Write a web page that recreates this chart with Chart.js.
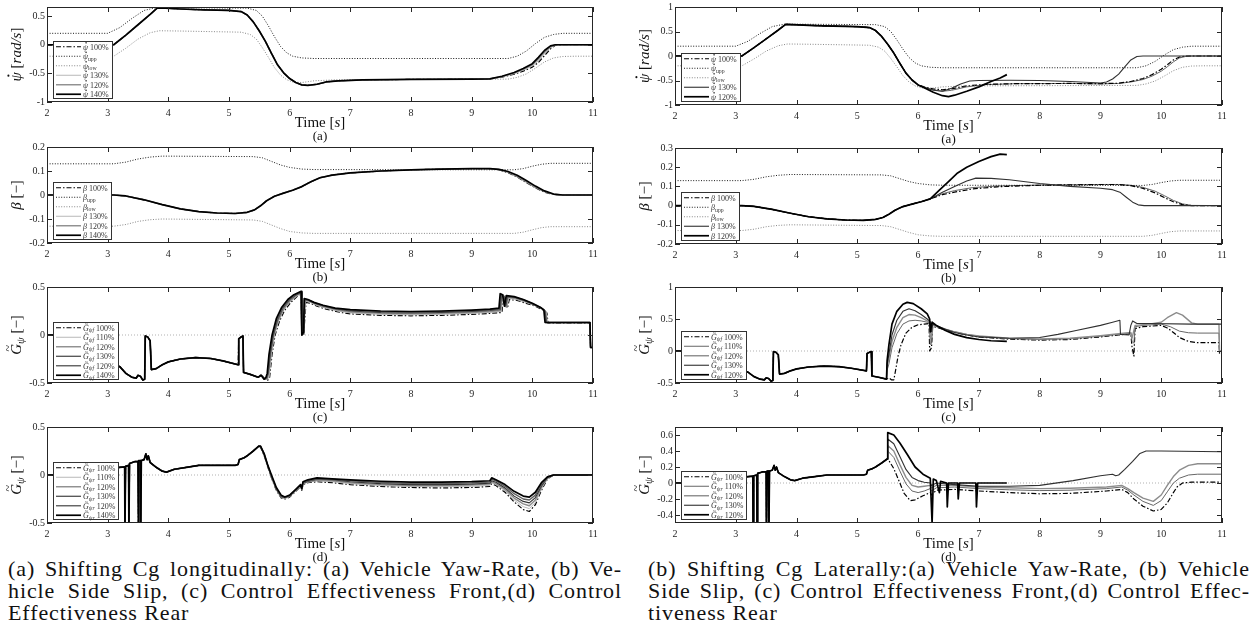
<!DOCTYPE html>
<html>
<head>
<meta charset="utf-8">
<script src="https://cdn.jsdelivr.net/npm/chart.js@4.4.1/dist/chart.umd.min.js"></script>
<style>
  html, body { margin: 0; padding: 0; background: #fff; }
  #wrap { position: relative; width: 1258px; height: 639px; overflow: hidden; background: #fff; }
  canvas { position: absolute; }
  .cap { position: absolute; font-family: "Liberation Serif", serif; font-size: 22px; line-height: 22px; color: #111; letter-spacing: 0.9px; }
  .cap div { white-space: nowrap; }
</style>
</head>
<body>
<div id="wrap">
  <div class="cap" style="left:8px;top:558px;width:614px">
    <div><span class="j">(a) Shifting Cg longitudinally: (a) Vehicle Yaw-Rate, (b) Ve-</span></div>
    <div><span class="j">hicle Side Slip, (c) Control Effectiveness Front,(d) Control</span></div>
    <div><span>Effectiveness Rear</span></div>
  </div>
  <div class="cap" style="left:648px;top:558px;width:602px">
    <div><span class="j">(b) Shifting Cg Laterally:(a) Vehicle Yaw-Rate, (b) Vehicle</span></div>
    <div><span class="j">Side Slip, (c) Control Effectiveness Front,(d) Control Effec-</span></div>
    <div><span>tiveness Rear</span></div>
  </div>
</div>
<script>
// ---------- ticks ----------
const xTicks = [2, 3, 4, 5, 6, 7, 8, 9, 10, 11];
const yTicksPsiL = [-1, -0.5, 0, 0.5];
const yTicksPsiR = [-1, -0.5, 0, 0.5, 1];
const yTicksBetaL = [-0.2, -0.1, 0, 0.1, 0.2];
const yTicksBetaR = [-0.2, -0.1, 0, 0.1, 0.2, 0.3];
const yTicksGL = [-0.5, 0, 0.5];
const yTicksGfR = [-0.5, 0, 0.5, 1];
const yTicksGrR = [-0.4, -0.2, 0, 0.2, 0.4, 0.6];

// ---------- datos: [tiempo, valor] ----------
const zeroLine = [[2, 0], [11, 0]];

// yaw rate
const psiBase = [[2,0],[3.1,0],[3.3,0.17],[3.5,0.35],[3.7,0.53],[3.82,0.645],[3.95,0.64],[4.2,0.625],[4.6,0.61],[5.0,0.6],[5.2,0.58],[5.3,0.52],[5.4,0.4],[5.5,0.24],[5.6,0.06],[5.7,-0.15],[5.8,-0.35],[5.9,-0.49],[6.0,-0.59]];
const psiMidL = [[6.1,-0.66],[6.2,-0.7],[6.3,-0.71],[6.45,-0.69],[6.6,-0.65],[6.8,-0.63],[7.2,-0.615],[8,-0.605],[9,-0.6],[9.3,-0.595]];
const psiL100 = psiBase.concat(psiMidL, [[9.5,-0.565],[9.7,-0.515],[9.85,-0.46],[10.0,-0.39],[10.1,-0.31],[10.2,-0.19],[10.3,-0.07],[10.38,-0.01],[10.5,0],[11,0]]);
const psiL130 = psiBase.concat(psiMidL, [[9.5,-0.56],[9.7,-0.505],[9.85,-0.445],[10.0,-0.37],[10.1,-0.28],[10.2,-0.16],[10.3,-0.05],[10.38,-0.005],[10.5,0],[11,0]]);
const psiL120 = psiBase.concat(psiMidL, [[9.5,-0.555],[9.7,-0.495],[9.85,-0.43],[10.0,-0.35],[10.1,-0.25],[10.2,-0.13],[10.3,-0.035],[10.38,0],[11,0]]);
const psiL140 = psiBase.concat(psiMidL, [[9.5,-0.55],[9.7,-0.485],[9.85,-0.415],[10.0,-0.33],[10.1,-0.22],[10.2,-0.1],[10.3,-0.02],[10.38,0],[11,0]]);
const psiUpp = [[2,0.2],[3.0,0.2],[3.2,0.3],[3.4,0.46],[3.6,0.6],[3.8,0.65],[5.3,0.64],[5.45,0.6],[5.55,0.5],[5.65,0.33],[5.75,0.14],[5.85,-0.03],[5.95,-0.14],[6.05,-0.2],[6.2,-0.23],[6.4,-0.24],[9.6,-0.24],[9.75,-0.2],[9.9,-0.11],[10.05,0.02],[10.2,0.13],[10.35,0.18],[10.5,0.2],[11,0.2]];
const psiLow = [[2,-0.2],[3.1,-0.2],[3.3,-0.06],[3.5,0.1],[3.7,0.21],[3.85,0.245],[4.2,0.24],[5.2,0.22],[5.35,0.18],[5.45,0.1],[5.55,-0.05],[5.65,-0.22],[5.75,-0.4],[5.85,-0.53],[5.95,-0.61],[6.05,-0.65],[6.2,-0.66],[6.4,-0.63],[6.8,-0.61],[9.6,-0.6],[9.75,-0.57],[9.9,-0.51],[10.05,-0.41],[10.2,-0.3],[10.35,-0.23],[10.5,-0.205],[10.7,-0.2],[11,-0.2]];
const psiR100 = psiBase.concat([[6.1,-0.63],[6.25,-0.67],[6.4,-0.69],[6.55,-0.67],[6.8,-0.61],[7.1,-0.58],[7.6,-0.565],[8.5,-0.56],[9.0,-0.565],[9.3,-0.555],[9.5,-0.52],[9.7,-0.46],[9.85,-0.38],[10.0,-0.27],[10.1,-0.18],[10.2,-0.08],[10.3,-0.02],[10.4,0],[11,0]]);
const psiR110 = psiBase.concat([[6.1,-0.64],[6.25,-0.69],[6.4,-0.72],[6.55,-0.7],[6.8,-0.63],[7.1,-0.585],[7.6,-0.565],[8.5,-0.56],[9.0,-0.57],[9.3,-0.56],[9.5,-0.53],[9.7,-0.48],[9.85,-0.41],[10.0,-0.31],[10.1,-0.22],[10.2,-0.12],[10.3,-0.04],[10.4,-0.01],[10.5,0],[11,0]]);
const psiR130 = psiBase.concat([[6.1,-0.64],[6.25,-0.7],[6.4,-0.72],[6.55,-0.66],[6.7,-0.57],[6.85,-0.51],[7.0,-0.5],[7.5,-0.495],[8.0,-0.5],[8.5,-0.52],[9.0,-0.55],[9.1,-0.53],[9.2,-0.47],[9.3,-0.37],[9.4,-0.22],[9.5,-0.08],[9.6,-0.01],[9.7,0],[11,0]]);
const psiR120 = psiBase.concat([[6.1,-0.65],[6.25,-0.74],[6.4,-0.81],[6.5,-0.83],[6.6,-0.8],[6.8,-0.72],[7.0,-0.63],[7.2,-0.52],[7.35,-0.45],[7.46,-0.38]]);

// side slip
const betaBase = [[2,0],[3.1,0],[3.3,-0.004],[3.6,-0.02],[3.9,-0.04],[4.2,-0.058],[4.5,-0.069],[4.8,-0.075],[5.1,-0.077],[5.3,-0.072],[5.42,-0.062],[5.52,-0.045],[5.62,-0.024],[5.75,-0.005],[5.9,0.008],[6.05,0.02],[6.2,0.035]];
const betaMidL = [[6.35,0.055],[6.5,0.072],[6.7,0.083],[7.0,0.092],[7.5,0.1],[8,0.105],[8.5,0.108],[9.0,0.11],[9.3,0.11]];
const betaL100 = betaBase.concat(betaMidL, [[9.45,0.105],[9.6,0.093],[9.75,0.075],[9.9,0.052],[10.05,0.03],[10.2,0.012],[10.35,0.002],[10.5,0],[11,0]]);
const betaL130 = betaBase.concat(betaMidL, [[9.45,0.106],[9.6,0.096],[9.75,0.079],[9.9,0.057],[10.05,0.034],[10.2,0.015],[10.35,0.003],[10.5,0],[11,0]]);
const betaL120 = betaBase.concat(betaMidL, [[9.45,0.106],[9.6,0.095],[9.75,0.077],[9.9,0.055],[10.05,0.032],[10.2,0.014],[10.35,0.003],[10.5,0],[11,0]]);
const betaL140 = betaBase.concat(betaMidL, [[9.45,0.107],[9.6,0.098],[9.75,0.082],[9.9,0.06],[10.05,0.037],[10.2,0.017],[10.35,0.004],[10.5,0],[11,0]]);
const betaUpp = [[2,0.13],[3.1,0.13],[3.3,0.137],[3.5,0.15],[3.7,0.158],[3.9,0.162],[5.4,0.16],[5.55,0.155],[5.7,0.14],[5.85,0.125],[6.0,0.115],[6.2,0.108],[6.4,0.106],[9.7,0.105],[9.85,0.11],[10.0,0.12],[10.15,0.128],[10.3,0.132],[11,0.132]];
const betaLow = [[2,-0.13],[3.1,-0.13],[3.3,-0.123],[3.5,-0.11],[3.7,-0.103],[3.9,-0.1],[5.4,-0.104],[5.55,-0.11],[5.7,-0.125],[5.85,-0.14],[6.0,-0.152],[6.2,-0.158],[6.4,-0.16],[9.7,-0.16],[9.85,-0.155],[10.0,-0.145],[10.15,-0.136],[10.3,-0.132],[11,-0.132]];
const betaR100 = betaBase.concat([[6.4,0.057],[6.6,0.07],[6.9,0.087],[7.3,0.098],[8,0.106],[8.5,0.108],[9.0,0.11],[9.3,0.11],[9.5,0.104],[9.7,0.09],[9.9,0.066],[10.05,0.042],[10.2,0.02],[10.35,0.005],[10.5,0],[11,0]]);
const betaR110 = betaBase.concat([[6.4,0.062],[6.6,0.078],[6.9,0.094],[7.3,0.102],[8,0.107],[9.0,0.11],[9.3,0.11],[9.5,0.106],[9.7,0.095],[9.9,0.075],[10.05,0.052],[10.2,0.027],[10.35,0.009],[10.5,0.001],[11,0]]);
const betaR130 = betaBase.concat([[6.4,0.07],[6.6,0.1],[6.8,0.128],[6.95,0.143],[7.2,0.142],[7.5,0.135],[8,0.115],[8.5,0.1],[9.0,0.09],[9.2,0.083],[9.32,0.07],[9.42,0.045],[9.53,0.018],[9.62,0.004],[9.72,0],[11,0]]);
const betaR120 = betaBase.concat([[6.35,0.08],[6.5,0.125],[6.65,0.17],[6.8,0.2],[7.0,0.23],[7.2,0.255],[7.35,0.268],[7.46,0.265]]);

// control effectiveness front
const gfBase = [[2,0],[2.9,0],[2.92,-0.26],[3.1,-0.3],[3.2,-0.33],[3.3,-0.4],[3.4,-0.44],[3.47,-0.45],[3.5,-0.42],[3.54,-0.43],[3.58,-0.47],[3.61,-0.46],[3.62,-0.01],[3.66,-0.02],[3.7,-0.06],[3.72,-0.36],[3.8,-0.35],[3.9,-0.31],[4.0,-0.28],[4.2,-0.25],[4.45,-0.235],[4.7,-0.245],[4.9,-0.27],[5.15,-0.31],[5.16,-0.04],[5.2,-0.02],[5.23,-0.01],[5.24,-0.39],[5.35,-0.41],[5.48,-0.44]];
const gfL100 = gfBase.concat([[5.53,-0.41],[5.58,-0.45],[5.64,-0.47],[5.67,-0.44],[5.71,-0.2],[5.76,0.0],[5.83,0.14],[5.92,0.26],[6.02,0.34],[6.12,0.4],[6.19,0.43],[6.2,0.0],[6.23,0.0],[6.27,0.34],[6.35,0.33],[6.45,0.3],[6.6,0.27],[6.8,0.24],[7,0.22],[7.5,0.205],[8,0.2],[8.5,0.205],[9,0.215],[9.3,0.225],[9.5,0.235],[9.52,0.39],[9.56,0.38],[9.59,0.28],[9.62,0.37],[9.75,0.36],[9.9,0.33],[10.05,0.3],[10.18,0.26],[10.24,0.23],[10.26,0.12],[10.95,0.12],[10.96,-0.13],[11,-0.13]]);
const gfL110 = gfBase.concat([[5.53,-0.41],[5.58,-0.45],[5.63,-0.46],[5.66,-0.44],[5.7,-0.2],[5.75,0.0],[5.82,0.15],[5.91,0.27],[6.01,0.35],[6.11,0.4],[6.19,0.435],[6.2,0.0],[6.23,0.01],[6.26,0.35],[6.34,0.34],[6.44,0.31],[6.59,0.28],[6.79,0.25],[7,0.23],[7.5,0.215],[8,0.21],[8.5,0.215],[9,0.225],[9.3,0.235],[9.49,0.245],[9.51,0.4],[9.55,0.39],[9.58,0.29],[9.61,0.38],[9.74,0.37],[9.89,0.34],[10.04,0.31],[10.17,0.27],[10.23,0.24],[10.25,0.125],[10.95,0.125],[10.96,-0.13],[11,-0.13]]);
const gfL120 = gfBase.concat([[5.53,-0.42],[5.58,-0.46],[5.63,-0.46],[5.655,-0.4],[5.69,-0.2],[5.74,0.0],[5.81,0.15],[5.9,0.27],[6.0,0.35],[6.1,0.41],[6.19,0.44],[6.2,0.0],[6.23,0.01],[6.255,0.36],[6.33,0.35],[6.43,0.32],[6.58,0.29],[6.78,0.26],[7,0.24],[7.5,0.225],[8,0.22],[8.5,0.225],[9,0.235],[9.3,0.245],[9.48,0.255],[9.5,0.41],[9.54,0.4],[9.57,0.29],[9.6,0.39],[9.73,0.38],[9.88,0.35],[10.03,0.315],[10.16,0.275],[10.22,0.245],[10.24,0.13],[10.95,0.13],[10.96,-0.13],[11,-0.13]]);
const gfL130 = gfBase.concat([[5.53,-0.42],[5.58,-0.46],[5.62,-0.45],[5.645,-0.4],[5.68,-0.2],[5.73,0.0],[5.8,0.16],[5.89,0.28],[5.99,0.36],[6.09,0.41],[6.19,0.445],[6.2,0.0],[6.23,0.02],[6.25,0.37],[6.32,0.36],[6.42,0.33],[6.57,0.3],[6.77,0.27],[7,0.25],[7.5,0.235],[8,0.23],[8.5,0.235],[9,0.245],[9.3,0.255],[9.47,0.265],[9.49,0.42],[9.53,0.41],[9.56,0.3],[9.59,0.4],[9.72,0.39],[9.87,0.36],[10.02,0.32],[10.15,0.28],[10.21,0.25],[10.23,0.13],[10.95,0.13],[10.96,-0.13],[11,-0.13]]);
const gfL120b = gfBase.concat([[5.53,-0.42],[5.58,-0.46],[5.62,-0.45],[5.64,-0.4],[5.67,-0.2],[5.72,0.0],[5.79,0.16],[5.88,0.28],[5.98,0.36],[6.08,0.415],[6.19,0.45],[6.2,0.0],[6.23,0.02],[6.245,0.375],[6.31,0.365],[6.41,0.335],[6.56,0.305],[6.76,0.275],[7,0.258],[7.5,0.243],[8,0.238],[8.5,0.243],[9,0.253],[9.3,0.263],[9.46,0.273],[9.48,0.425],[9.52,0.415],[9.55,0.3],[9.58,0.405],[9.71,0.395],[9.86,0.365],[10.01,0.325],[10.14,0.285],[10.2,0.255],[10.22,0.13],[10.95,0.13],[10.96,-0.13],[11,-0.13]]);
const gfL140 = gfBase.concat([[5.53,-0.42],[5.58,-0.46],[5.61,-0.44],[5.63,-0.4],[5.66,-0.2],[5.71,0.0],[5.78,0.17],[5.87,0.29],[5.97,0.37],[6.07,0.42],[6.19,0.455],[6.2,0.0],[6.23,0.03],[6.24,0.38],[6.3,0.37],[6.4,0.34],[6.55,0.31],[6.75,0.28],[7,0.265],[7.5,0.25],[8,0.245],[8.5,0.25],[9,0.26],[9.3,0.27],[9.45,0.28],[9.47,0.43],[9.51,0.42],[9.54,0.3],[9.57,0.41],[9.7,0.4],[9.85,0.37],[10.0,0.33],[10.13,0.29],[10.19,0.26],[10.21,0.13],[10.95,0.13],[10.96,-0.13],[11,-0.13]]);
const gfR100 = gfBase.concat([[5.52,-0.42],[5.56,-0.45],[5.6,-0.45],[5.63,-0.3],[5.67,-0.08],[5.72,0.1],[5.8,0.28],[5.9,0.37],[6.0,0.41],[6.1,0.42],[6.18,0.43],[6.19,0.0],[6.22,0.05],[6.24,0.38],[6.3,0.37],[6.45,0.33],[6.6,0.29],[6.8,0.25],[7,0.22],[7.5,0.185],[8,0.17],[8.5,0.18],[9.0,0.22],[9.3,0.25],[9.5,0.27],[9.52,0.06],[9.55,-0.08],[9.57,0.35],[9.7,0.38],[10.0,0.4],[10.1,0.36],[10.2,0.29],[10.3,0.21],[10.45,0.15],[10.6,0.13],[10.95,0.13],[10.96,-0.05],[11,-0.05]]);
const gfR110 = gfBase.concat([[5.49,-0.3],[5.52,-0.2],[5.57,0.05],[5.65,0.27],[5.75,0.42],[5.85,0.47],[5.95,0.48],[6.05,0.47],[6.15,0.45],[6.19,0.44],[6.2,0.1],[6.22,0.12],[6.24,0.4],[6.3,0.38],[6.45,0.34],[6.6,0.3],[6.8,0.26],[7,0.23],[7.5,0.195],[8,0.18],[8.5,0.19],[9.0,0.23],[9.3,0.26],[9.5,0.28],[9.52,0.15],[9.55,0.12],[9.57,0.38],[9.7,0.4],[10.0,0.42],[10.15,0.38],[10.3,0.31],[10.45,0.285],[10.6,0.28],[10.95,0.28],[10.96,0],[11,0]]);
const gfR120 = gfBase.concat([[5.49,-0.25],[5.52,-0.12],[5.57,0.15],[5.65,0.37],[5.75,0.52],[5.85,0.57],[5.95,0.56],[6.05,0.52],[6.15,0.47],[6.19,0.45],[6.2,0.2],[6.22,0.22],[6.24,0.41],[6.3,0.39],[6.45,0.34],[6.6,0.3],[6.8,0.26],[7,0.235],[7.5,0.2],[8,0.19],[8.5,0.2],[9.0,0.24],[9.3,0.27],[9.5,0.29],[9.52,0.2],[9.57,0.4],[9.8,0.42],[10.0,0.45],[10.1,0.52],[10.25,0.6],[10.35,0.56],[10.5,0.44],[10.6,0.42],[10.95,0.42],[10.96,0],[11,0]]);
const gfR130 = gfBase.concat([[5.49,-0.2],[5.52,-0.05],[5.57,0.25],[5.65,0.48],[5.75,0.62],[5.85,0.66],[5.95,0.63],[6.05,0.57],[6.15,0.5],[6.2,0.46],[6.22,0.3],[6.24,0.42],[6.3,0.4],[6.45,0.34],[6.6,0.29],[6.8,0.25],[7,0.22],[7.5,0.2],[8,0.21],[8.3,0.26],[8.6,0.32],[9.0,0.4],[9.2,0.45],[9.32,0.48],[9.33,0.26],[9.47,0.25],[9.5,0.4],[9.53,0.47],[9.6,0.43],[9.8,0.43],[10.5,0.42],[11,0.42]]);
const gfR120b = gfBase.concat([[5.49,-0.15],[5.52,0.1],[5.57,0.42],[5.65,0.62],[5.75,0.73],[5.82,0.76],[5.92,0.74],[6.05,0.66],[6.15,0.58],[6.19,0.5],[6.2,0.3],[6.23,0.45],[6.3,0.4],[6.45,0.32],[6.6,0.26],[6.8,0.21],[7,0.18],[7.2,0.16],[7.46,0.15]]);

// control effectiveness rear
const grBase = [[2,0],[2.9,0],[2.92,0.05],[3.2,0.08],[3.28,0.085],[3.285,-0.6],[3.295,0.09],[3.345,0.1],[3.35,-0.6],[3.36,0.12],[3.45,0.14],[3.5,0.14],[3.505,-0.6],[3.515,0.15],[3.54,0.15],[3.545,-0.6],[3.555,0.15],[3.6,0.16],[3.63,0.22],[3.65,0.16],[3.67,0.2],[3.7,0.13],[3.8,0.08],[3.9,0.04],[3.97,0.03],[4.1,0.06],[4.3,0.08],[4.5,0.1],[4.8,0.1],[5.1,0.1],[5.15,0.11],[5.17,0.16],[5.25,0.18],[5.3,0.2],[5.4,0.25],[5.49,0.3]];
const grL100 = grBase.concat([[5.52,0.29],[5.58,0.2],[5.64,0.08],[5.7,-0.03],[5.78,-0.16],[5.86,-0.24],[5.92,-0.25],[6.0,-0.23],[6.1,-0.17],[6.18,-0.12],[6.2,-0.16],[6.22,-0.1],[6.3,-0.08],[6.45,-0.07],[6.7,-0.08],[7,-0.1],[7.5,-0.12],[8,-0.13],[8.5,-0.135],[9,-0.13],[9.3,-0.12],[9.33,-0.09],[9.4,-0.11],[9.55,-0.18],[9.7,-0.28],[9.85,-0.36],[9.95,-0.38],[10.05,-0.31],[10.15,-0.16],[10.25,-0.04],[10.35,0],[11,0]]);
const grL110 = grBase.concat([[5.52,0.29],[5.58,0.205],[5.64,0.085],[5.7,-0.025],[5.78,-0.155],[5.86,-0.235],[5.92,-0.245],[6.0,-0.225],[6.1,-0.165],[6.18,-0.115],[6.2,-0.155],[6.22,-0.095],[6.3,-0.075],[6.45,-0.06],[6.7,-0.07],[7,-0.09],[7.5,-0.11],[8,-0.12],[8.5,-0.122],[9,-0.118],[9.3,-0.108],[9.33,-0.08],[9.4,-0.1],[9.55,-0.165],[9.7,-0.26],[9.85,-0.33],[9.95,-0.35],[10.05,-0.285],[10.15,-0.145],[10.25,-0.035],[10.35,0],[11,0]]);
const grL120 = grBase.concat([[5.52,0.295],[5.58,0.21],[5.64,0.09],[5.7,-0.02],[5.78,-0.15],[5.86,-0.23],[5.92,-0.24],[6.0,-0.22],[6.1,-0.16],[6.18,-0.11],[6.2,-0.15],[6.22,-0.09],[6.3,-0.07],[6.45,-0.055],[6.7,-0.06],[7,-0.08],[7.5,-0.1],[8,-0.11],[8.5,-0.11],[9,-0.105],[9.3,-0.095],[9.33,-0.07],[9.4,-0.09],[9.55,-0.15],[9.7,-0.24],[9.85,-0.3],[9.95,-0.32],[10.05,-0.26],[10.15,-0.13],[10.25,-0.03],[10.35,0],[11,0]]);
const grL130 = grBase.concat([[5.52,0.295],[5.58,0.215],[5.64,0.095],[5.7,-0.015],[5.78,-0.145],[5.86,-0.225],[5.92,-0.235],[6.0,-0.215],[6.1,-0.155],[6.18,-0.105],[6.2,-0.145],[6.22,-0.085],[6.3,-0.065],[6.45,-0.045],[6.7,-0.05],[7,-0.07],[7.5,-0.09],[8,-0.1],[8.5,-0.1],[9,-0.095],[9.3,-0.085],[9.33,-0.06],[9.4,-0.075],[9.55,-0.135],[9.7,-0.22],[9.85,-0.275],[9.95,-0.29],[10.05,-0.235],[10.15,-0.115],[10.25,-0.025],[10.35,0],[11,0]]);
const grL120b = grBase.concat([[5.52,0.3],[5.58,0.22],[5.64,0.1],[5.7,-0.01],[5.78,-0.14],[5.86,-0.22],[5.92,-0.235],[6.0,-0.215],[6.1,-0.155],[6.18,-0.105],[6.2,-0.145],[6.22,-0.08],[6.3,-0.06],[6.45,-0.04],[6.7,-0.045],[7,-0.06],[7.5,-0.078],[8,-0.088],[8.5,-0.088],[9,-0.083],[9.3,-0.073],[9.33,-0.045],[9.4,-0.062],[9.55,-0.118],[9.7,-0.195],[9.85,-0.25],[9.95,-0.26],[10.05,-0.21],[10.15,-0.1],[10.25,-0.02],[10.35,0],[11,0]]);
const grL140 = grBase.concat([[5.52,0.3],[5.58,0.22],[5.64,0.1],[5.7,0.0],[5.78,-0.13],[5.86,-0.21],[5.92,-0.23],[6.0,-0.21],[6.1,-0.15],[6.18,-0.1],[6.2,-0.14],[6.22,-0.07],[6.3,-0.05],[6.45,-0.03],[6.7,-0.04],[7,-0.05],[7.5,-0.065],[8,-0.075],[8.5,-0.075],[9,-0.07],[9.3,-0.06],[9.33,-0.03],[9.4,-0.05],[9.55,-0.1],[9.7,-0.17],[9.85,-0.22],[9.95,-0.23],[10.05,-0.18],[10.15,-0.08],[10.25,-0.02],[10.35,0],[11,0]]);
const grR100 = grBase.concat([[5.52,0.28],[5.6,0.18],[5.7,0.0],[5.77,-0.13],[5.87,-0.22],[5.95,-0.21],[6.08,-0.16],[6.2,-0.12],[6.22,-0.15],[6.3,-0.09],[6.6,-0.08],[7,-0.1],[7.5,-0.12],[8,-0.135],[8.5,-0.13],[9.1,-0.1],[9.35,-0.08],[9.45,-0.12],[9.55,-0.2],[9.7,-0.29],[9.87,-0.35],[10.0,-0.33],[10.1,-0.25],[10.2,-0.12],[10.26,-0.05],[10.35,0],[10.5,0.01],[11,0.01]]);
const grR110 = grBase.concat([[5.5,0.4],[5.6,0.32],[5.7,0.15],[5.8,-0.01],[5.9,-0.1],[6.0,-0.12],[6.1,-0.1],[6.2,-0.07],[6.22,-0.1],[6.3,-0.06],[6.6,-0.05],[7,-0.07],[7.5,-0.085],[8,-0.095],[8.5,-0.09],[9.1,-0.07],[9.35,-0.05],[9.45,-0.09],[9.55,-0.15],[9.7,-0.23],[9.87,-0.28],[10.0,-0.22],[10.1,-0.11],[10.2,0.0],[10.3,0.06],[10.45,0.1],[10.6,0.11],[11,0.11]]);
const grR120 = grBase.concat([[5.5,0.47],[5.6,0.4],[5.7,0.23],[5.8,0.07],[5.9,-0.03],[6.0,-0.05],[6.1,-0.04],[6.2,-0.03],[6.22,-0.06],[6.3,-0.03],[6.6,-0.03],[7,-0.05],[7.5,-0.06],[8,-0.07],[8.5,-0.065],[9.1,-0.05],[9.35,-0.03],[9.45,-0.07],[9.55,-0.12],[9.7,-0.19],[9.87,-0.23],[10.0,-0.15],[10.1,-0.03],[10.2,0.08],[10.3,0.16],[10.45,0.22],[10.6,0.24],[11,0.24]]);
const grR130 = grBase.concat([[5.5,0.55],[5.6,0.49],[5.7,0.33],[5.8,0.17],[5.9,0.07],[6.0,0.03],[6.1,0.01],[6.2,0.0],[6.22,-0.03],[6.3,0.0],[6.6,-0.02],[7,-0.04],[7.5,-0.04],[8,-0.03],[8.55,0.03],[9.0,0.09],[9.2,0.11],[9.25,0.09],[9.3,0.1],[9.4,0.17],[9.53,0.27],[9.65,0.37],[9.75,0.4],[10,0.4],[11,0.39]]);
const grR120b = grBase.concat([[5.5,0.63],[5.6,0.6],[5.7,0.5],[5.82,0.36],[5.95,0.2],[6.08,0.11],[6.2,0.06],[6.23,-0.5],[6.25,0.05],[6.3,0.03],[6.35,-0.12],[6.37,0.02],[6.47,0.0],[6.48,-0.3],[6.5,0.0],[6.65,0.0],[6.66,-0.2],[6.68,0.0],[6.95,0.0],[6.96,-0.3],[6.98,0.0],[7.46,0.0]]);

// ---------- estilos ----------
const styles = {
  dd:   { c: '#000000', w: 1.2, d: [5, 2, 1.5, 2] },
  upp:  { c: '#000000', w: 0.9, d: [1, 1.6] },
  low:  { c: '#7a7a7a', w: 0.9, d: [1, 1.6] },
  lt:   { c: '#b8b8b8', w: 1 },
  md:   { c: '#8c8c8c', w: 1.4 },
  dk:   { c: '#303030', w: 1.1 },
  dk2:  { c: '#5e5e5e', w: 1.4 },
  bk:   { c: '#000000', w: 1.7 },
  gr:   { c: '#666666', w: 1 },
  zero: { c: '#a8a8a8', w: 0.9, d: [1, 2] }
};
const SERIF = '"Liberation Serif", "DejaVu Serif", serif';
// flags: i = cursiva, s = subindice, d = punto encima, t = tilde encima
const PSI = ['\u03C8', 'id'], BETA = ['\u03B2', 'i'], GT = ['G', 'it'];
const timeLabel = [['Time ['], ['s', 'i'], [']']];
const titPsi = [PSI, [' ['], ['rad/s', 'i'], [']']];
const titBeta = [BETA, [' [\u2212]']];
const titGf = [GT, ['\u03C8', 'is'], [' [\u2212]']];

const panels = [
  { col: 0, top: 5, bottom: 102, yMin: -1, yMax: 0.66, yTicks: yTicksPsiL, title: titPsi, tag: '(a)', series: [
    { d: psiL100, s: 'dd', lg: [PSI, [' 100%']] },
    { d: psiUpp, s: 'upp', lg: [PSI, ['upp', 's']] },
    { d: psiLow, s: 'low', lg: [PSI, ['low', 's']] },
    { d: psiL130, s: 'lt', lg: [PSI, [' 130%']] },
    { d: psiL120, s: 'md', lg: [PSI, [' 120%']] },
    { d: psiL140, s: 'bk', lg: [PSI, [' 140%']] } ] },
  { col: 0, top: 145, bottom: 243, yMin: -0.2, yMax: 0.2, yTicks: yTicksBetaL, title: titBeta, tag: '(b)', series: [
    { d: betaL100, s: 'dd', lg: [BETA, [' 100%']] },
    { d: betaUpp, s: 'upp', lg: [BETA, ['upp', 's']] },
    { d: betaLow, s: 'low', lg: [BETA, ['low', 's']] },
    { d: betaL130, s: 'lt', lg: [BETA, [' 130%']] },
    { d: betaL120, s: 'md', lg: [BETA, [' 120%']] },
    { d: betaL140, s: 'bk', lg: [BETA, [' 140%']] } ] },
  { col: 0, top: 285, bottom: 383, yMin: -0.5, yMax: 0.5, yTicks: yTicksGL, title: titGf, tag: '(c)', series: [
    { d: zeroLine, s: 'zero' },
    { d: gfL100, s: 'dd', lg: [GT, ['\u03C8f', 'is'], [' 100%']] },
    { d: gfL110, s: 'lt', lg: [GT, ['\u03C8f', 'is'], [' 110%']] },
    { d: gfL120, s: 'md', lg: [GT, ['\u03C8f', 'is'], [' 120%']] },
    { d: gfL130, s: 'dk', lg: [GT, ['\u03C8f', 'is'], [' 130%']] },
    { d: gfL120b, s: 'dk2', lg: [GT, ['\u03C8f', 'is'], [' 120%']] },
    { d: gfL140, s: 'bk', lg: [GT, ['\u03C8f', 'is'], [' 140%']] } ] },
  { col: 0, top: 425, bottom: 523, yMin: -0.5, yMax: 0.5, yTicks: yTicksGL, title: titGf, tag: '(d)', series: [
    { d: zeroLine, s: 'zero' },
    { d: grL100, s: 'dd', lg: [GT, ['\u03C8r', 'is'], [' 100%']] },
    { d: grL110, s: 'lt', lg: [GT, ['\u03C8r', 'is'], [' 110%']] },
    { d: grL120, s: 'md', lg: [GT, ['\u03C8r', 'is'], [' 120%']] },
    { d: grL130, s: 'dk', lg: [GT, ['\u03C8r', 'is'], [' 130%']] },
    { d: grL120b, s: 'dk2', lg: [GT, ['\u03C8r', 'is'], [' 120%']] },
    { d: grL140, s: 'bk', lg: [GT, ['\u03C8r', 'is'], [' 140%']] } ] },
  { col: 1, top: 5, bottom: 105, yMin: -1, yMax: 1, yTicks: yTicksPsiR, title: titPsi, tag: '(a)', series: [
    { d: psiR110, s: 'gr' },
    { d: psiR100, s: 'dd', lg: [PSI, [' 100%']] },
    { d: psiUpp, s: 'upp', lg: [PSI, ['upp', 's']] },
    { d: psiLow, s: 'low', lg: [PSI, ['low', 's']] },
    { d: psiR130, s: 'dk', lg: [PSI, [' 130%']] },
    { d: psiR120, s: 'bk', lg: [PSI, [' 120%']] } ] },
  { col: 1, top: 146, bottom: 244, yMin: -0.2, yMax: 0.3, yTicks: yTicksBetaR, title: titBeta, tag: '(b)', series: [
    { d: betaR110, s: 'gr' },
    { d: betaR100, s: 'dd', lg: [BETA, [' 100%']] },
    { d: betaUpp, s: 'upp', lg: [BETA, ['upp', 's']] },
    { d: betaLow, s: 'low', lg: [BETA, ['low', 's']] },
    { d: betaR130, s: 'dk', lg: [BETA, [' 130%']] },
    { d: betaR120, s: 'bk', lg: [BETA, [' 120%']] } ] },
  { col: 1, top: 285, bottom: 383, yMin: -0.5, yMax: 1, yTicks: yTicksGfR, title: titGf, tag: '(c)', series: [
    { d: zeroLine, s: 'zero' },
    { d: gfR100, s: 'dd', lg: [GT, ['\u03C8f', 'is'], [' 100%']] },
    { d: gfR110, s: 'gr', lg: [GT, ['\u03C8f', 'is'], [' 110%']] },
    { d: gfR120, s: 'md', lg: [GT, ['\u03C8f', 'is'], [' 120%']] },
    { d: gfR130, s: 'dk', lg: [GT, ['\u03C8f', 'is'], [' 130%']] },
    { d: gfR120b, s: 'bk', lg: [GT, ['\u03C8f', 'is'], [' 120%']] } ] },
  { col: 1, top: 425, bottom: 523, yMin: -0.5, yMax: 0.7, yTicks: yTicksGrR, title: titGf, tag: '(d)', series: [
    { d: zeroLine, s: 'zero' },
    { d: grR100, s: 'dd', lg: [GT, ['\u03C8r', 'is'], [' 100%']] },
    { d: grR110, s: 'gr', lg: [GT, ['\u03C8r', 'is'], [' 110%']] },
    { d: grR120, s: 'md', lg: [GT, ['\u03C8r', 'is'], [' 120%']] },
    { d: grR130, s: 'dk', lg: [GT, ['\u03C8r', 'is'], [' 130%']] },
    { d: grR120b, s: 'bk', lg: [GT, ['\u03C8r', 'is'], [' 120%']] } ] }
];

// ---------- texto con subindices y acentos ----------
function richFont(f, size) {
  return (f.indexOf('i') >= 0 ? 'italic ' : '') + size.toFixed(1) + 'px ' + SERIF;
}
function richWidth(ctx, parts, size) {
  let w = 0;
  parts.forEach(p => {
    const f = p[1] || '';
    ctx.font = richFont(f, f.indexOf('s') >= 0 ? size * 0.72 : size);
    w += ctx.measureText(p[0]).width;
  });
  return w;
}
function drawRich(ctx, parts, x, y, size, align) {
  const w = richWidth(ctx, parts, size);
  let cx = align === 'center' ? x - w / 2 : x;
  ctx.textAlign = 'left';
  ctx.textBaseline = 'alphabetic';
  parts.forEach(p => {
    const f = p[1] || '';
    const sub = f.indexOf('s') >= 0;
    const sz = sub ? size * 0.72 : size;
    const yy = y + (sub ? size * 0.22 : 0);
    ctx.font = richFont(f, sz);
    ctx.fillText(p[0], cx, yy);
    const tw = ctx.measureText(p[0]).width;
    if (f.indexOf('d') >= 0) {
      ctx.beginPath();
      ctx.arc(cx + tw * 0.62, yy - sz * 0.84, Math.max(0.8, sz * 0.07), 0, 2 * Math.PI);
      ctx.fill();
    }
    if (f.indexOf('t') >= 0) {
      ctx.save();
      ctx.font = (sz * 0.8).toFixed(1) + 'px ' + SERIF;
      ctx.textAlign = 'center';
      ctx.fillText('~', cx + tw * 0.6, yy - sz * 0.6);
      ctx.restore();
    }
    cx += tw;
  });
}

// marco, ticks interiores, titulos y leyenda
function framePlugin(p) {
  return {
    id: 'frame',
    afterDraw(chart) {
      const ctx = chart.ctx, a = chart.chartArea;
      const xs = chart.scales.x, ys = chart.scales.y;
      const L = Math.round(a.left), T = Math.round(a.top), R = Math.round(a.right), B = Math.round(a.bottom);
      ctx.save();
      ctx.setLineDash([]);
      ctx.strokeStyle = '#262626';
      ctx.lineWidth = 1;
      ctx.strokeRect(L + 0.5, T + 0.5, R - L - 1, B - T - 1);
      ctx.beginPath();
      xTicks.forEach(v => {
        const px = Math.round(xs.getPixelForValue(v)) + 0.5;
        ctx.moveTo(px, B); ctx.lineTo(px, B - 5);
        ctx.moveTo(px, T); ctx.lineTo(px, T + 5);
      });
      p.yTicks.forEach(v => {
        const py = Math.round(ys.getPixelForValue(v)) + 0.5;
        ctx.moveTo(L, py); ctx.lineTo(L + 5, py);
        ctx.moveTo(R, py); ctx.lineTo(R - 5, py);
      });
      ctx.stroke();

      ctx.fillStyle = '#111';
      drawRich(ctx, timeLabel, (L + R) / 2, B + 25, 15, 'center');
      ctx.font = '13px ' + SERIF;
      ctx.textAlign = 'center';
      ctx.fillText(p.tag, (L + R) / 2, B + 38);
      ctx.save();
      ctx.translate(L - 26, (T + B) / 2);
      ctx.rotate(-Math.PI / 2);
      drawRich(ctx, p.title, 0, 0, 15, 'center');
      ctx.restore();

      // leyenda
      const items = p.series.filter(s => s.lg);
      const fs = 8, rowH = 9.5;
      let maxW = 0;
      items.forEach(s => { maxW = Math.max(maxW, richWidth(ctx, s.lg, fs)); });
      const bw = Math.round(31 + maxW + 3), bh = Math.round(items.length * rowH + 1);
      const bx = L + 6, by = B - 3 - bh;
      ctx.fillStyle = '#fff';
      ctx.fillRect(bx, by, bw, bh);
      ctx.strokeStyle = '#333';
      ctx.lineWidth = 1;
      ctx.strokeRect(bx + 0.5, by + 0.5, bw - 1, bh - 1);
      items.forEach((s, i) => {
        const st = styles[s.s];
        const yy = by + 1 + rowH * (i + 0.5);
        ctx.beginPath();
        ctx.setLineDash(st.d || []);
        ctx.strokeStyle = st.c;
        ctx.lineWidth = st.w;
        ctx.moveTo(bx + 3, yy); ctx.lineTo(bx + 28, yy);
        ctx.stroke();
        ctx.setLineDash([]);
        ctx.fillStyle = '#333';
        drawRich(ctx, s.lg, bx + 30, yy + 2.8, fs);
      });
      ctx.restore();
    }
  };
}

const wrap = document.getElementById('wrap');
const fmt = v => String(Math.round(v * 100) / 100);

panels.forEach(p => {
  const colX = p.col ? 630 : 0;
  const axL = p.col ? 675 : 47, axR = p.col ? 1222 : 593;
  const W = 610, H = 6 + (p.bottom - p.top) + 42;
  const cv = document.createElement('canvas');
  cv.width = W; cv.height = H;
  cv.style.left = colX + 'px';
  cv.style.top = (p.top - 6) + 'px';
  cv.style.width = W + 'px';
  cv.style.height = H + 'px';
  wrap.appendChild(cv);

  new Chart(cv, {
    type: 'line',
    data: {
      datasets: p.series.map((s, i) => ({
        data: s.d.map(q => ({ x: q[0], y: q[1] })),
        borderColor: styles[s.s].c,
        borderWidth: styles[s.s].w,
        borderDash: styles[s.s].d || [],
        borderJoinStyle: 'round',
        pointRadius: 0,
        tension: 0,
        fill: false,
        clip: 0,
        order: p.series.length - i
      }))
    },
    options: {
      responsive: false,
      animation: false,
      devicePixelRatio: 1,
      layout: { padding: { left: 0, top: 6, right: W - (axR - colX), bottom: 0 } },
      plugins: { legend: { display: false }, tooltip: { enabled: false } },
      scales: {
        x: {
          type: 'linear', min: 2, max: 11,
          afterBuildTicks: s => { s.ticks = xTicks.map(v => ({ value: v })); },
          afterFit: s => { s.height = 42; },
          grid: { display: false, drawTicks: false },
          border: { display: false },
          ticks: { padding: 5, color: '#262626', font: { family: SERIF, size: 10 }, maxRotation: 0, autoSkip: false, callback: fmt }
        },
        y: {
          type: 'linear', min: p.yMin, max: p.yMax,
          afterBuildTicks: s => { s.ticks = p.yTicks.map(v => ({ value: v })); },
          afterFit: s => { s.width = axL - colX; },
          grid: { display: false, drawTicks: false },
          border: { display: false },
          ticks: { padding: 2, color: '#262626', font: { family: SERIF, size: 10 }, autoSkip: false, callback: fmt }
        }
      }
    },
    plugins: [framePlugin(p)]
  });
});

// justificado de las lineas del pie
document.querySelectorAll('.cap span.j').forEach(sp => {
  const target = sp.parentNode.parentNode.clientWidth;
  const natural = sp.getBoundingClientRect().width;
  const gaps = (sp.textContent.match(/ /g) || []).length;
  if (gaps) sp.style.wordSpacing = ((target - natural) / gaps).toFixed(2) + 'px';
});
</script>
</body>
</html>
